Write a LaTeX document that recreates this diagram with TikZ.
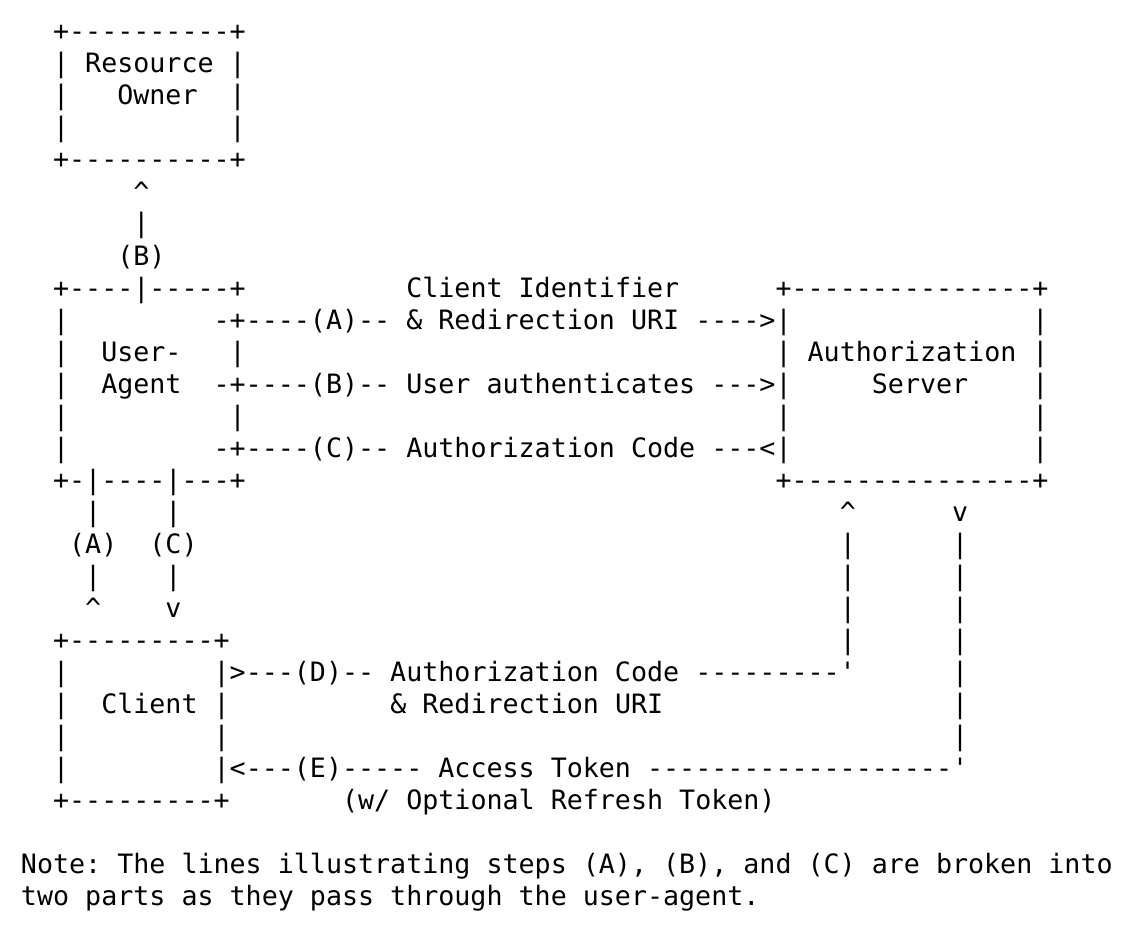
\documentclass[tikz,border=0pt]{standalone}
\usepackage{fontspec}
\setmonofont{DejaVu Sans Mono}
\newcommand\Sp[1]{\kern#1\fontcharwd\font`\x\relax}
\newcommand\Up{\textasciicircum}
\tikzset{ascii/.style={anchor=base west, inner sep=0pt, outer sep=0pt,
  font=\ttfamily\fontsize{20}{24}\selectfont}}
\begin{document}
\begin{tikzpicture}[x=0.75pt,y=-0.75pt]
\useasboundingbox (0,0) rectangle (1140,942);
\def\X{21}
\node[ascii] (l1)  at (\X, 41) {\Sp{2}+----------+};
\node[ascii] (l2)  at (\X, 73) {\Sp{2}| Resource |};
\node[ascii] (l3)  at (\X,105) {\Sp{2}|\Sp{3}Owner\Sp{2}|};
\node[ascii] (l4)  at (\X,137) {\Sp{2}|\Sp{10}|};
\node[ascii] (l5)  at (\X,169) {\Sp{2}+----------+};
\node[ascii] (l6)  at (\X,201) {\Sp{7}\Up};
\node[ascii] (l7)  at (\X,233) {\Sp{7}|};
\node[ascii] (l8)  at (\X,265) {\Sp{6}(B)};
\node[ascii] (l9)  at (\X,297) {\Sp{2}+----|-----+\Sp{10}Client Identifier\Sp{6}+---------------+};
\node[ascii] (l10) at (\X,329) {\Sp{2}|\Sp{9}-+----(A)-- \& Redirection URI ---->|\Sp{15}|};
\node[ascii] (l11) at (\X,361) {\Sp{2}|\Sp{2}User-\Sp{3}|\Sp{33}| Authorization |};
\node[ascii] (l12) at (\X,393) {\Sp{2}|\Sp{2}Agent\Sp{2}-+----(B)-- User authenticates --->|\Sp{5}Server\Sp{4}|};
\node[ascii] (l13) at (\X,425) {\Sp{2}|\Sp{10}|\Sp{33}|\Sp{15}|};
\node[ascii] (l14) at (\X,457) {\Sp{2}|\Sp{9}-+----(C)-- Authorization Code ---<|\Sp{15}|};
\node[ascii] (l15) at (\X,489) {\Sp{2}+-|----|---+\Sp{33}+---------------+};
\node[ascii] (l16) at (\X,521) {\Sp{4}|\Sp{4}|\Sp{41}\Up\Sp{6}v};
\node[ascii] (l17) at (\X,553) {\Sp{3}(A)\Sp{2}(C)\Sp{40}|\Sp{6}|};
\node[ascii] (l18) at (\X,585) {\Sp{4}|\Sp{4}|\Sp{41}|\Sp{6}|};
\node[ascii] (l19) at (\X,617) {\Sp{4}\Up\Sp{4}v\Sp{41}|\Sp{6}|};
\node[ascii] (l20) at (\X,649) {\Sp{2}+---------+\Sp{38}|\Sp{6}|};
\node[ascii] (l21) at (\X,681) {\Sp{2}|\Sp{9}|>---(D)-- Authorization Code ---------'\Sp{6}|};
\node[ascii] (l22) at (\X,713) {\Sp{2}|\Sp{2}Client |\Sp{10}\& Redirection URI\Sp{18}|};
\node[ascii] (l23) at (\X,745) {\Sp{2}|\Sp{9}|\Sp{45}|};
\node[ascii] (l24) at (\X,777) {\Sp{2}|\Sp{9}|<---(E)----- Access Token -------------------'};
\node[ascii] (l25) at (\X,809) {\Sp{2}+---------+\Sp{7}(w/ Optional Refresh Token)};
\node[ascii] (l27) at (\X,873) {Note: The lines illustrating steps (A), (B), and (C) are broken into};
\node[ascii] (l28) at (\X,905) {two parts as they pass through the user-agent.};
\end{tikzpicture}
\end{document}
